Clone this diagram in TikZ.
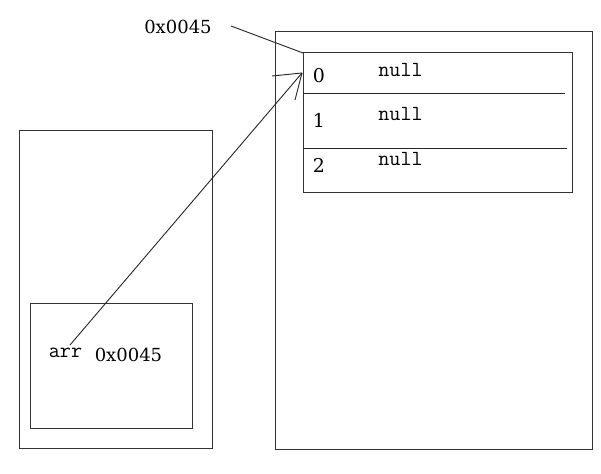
\documentclass[tikz,border=0pt]{standalone}
\usepackage{fontspec}
\newfontfamily\serifff{DejaVu Serif}
\begin{document}
\begin{tikzpicture}[x=1pt,y=-1pt,
  box/.style={draw=black!80, line width=1pt, inner sep=0pt, outer sep=0pt, fill=none},
  thin/.style={draw=black!85, line width=0.9pt},
  lbl/.style={inner sep=0pt, font=\serifff\fontsize{18}{18}\selectfont},
  idx/.style={inner sep=0pt, font=\serifff\fontsize{19}{19}\selectfont},
  nul/.style={inner sep=0pt, font=\ttfamily\fontsize{21.5}{21.5}\selectfont},
]
\useasboundingbox (0,0) rectangle (601,473);
\fill[white] (0,0) rectangle (601,473);
% stack
\node[box, minimum width=193pt, minimum height=317pt] (stack) at (115.5,289.5) {};
\node[box, minimum width=162pt, minimum height=125pt] (frame) at (111,365.5) {};
% heap
\node[box, minimum width=317pt, minimum height=417pt] (heap) at (433.5,240.5) {};
\node[box, minimum width=269pt, minimum height=139pt] (arrtab) at (437.5,122.5) {};
\coordinate (r1l) at (303,93); \coordinate (r1r) at (565,93);
\coordinate (r2l) at (303,148); \coordinate (r2r) at (567,148);
\draw[thin] (r1l) -- (r1r);
\draw[thin] (r2l) -- (r2r);
% index and values
\node[idx] (i0) at (319,76) {0};
\node[idx] (i1) at (319,120) {1};
\node[idx] (i2) at (319,165) {2};
\node[nul] (n0) at (400.5,70) {null};
\node[nul] (n1) at (400.5,114) {null};
\node[nul] (n2) at (400.5,159) {null};
% labels
\node[lbl] (addr) at (178,27) {0x0045};
\node[nul] (arr) at (65.5,352.5) {arr};
\node[lbl] (val) at (128.5,354.5) {0x0045};
% address pointer
\coordinate (addrfrom) at (231,26);
\draw[thin] (addrfrom) -- (arrtab.north west);
% reference arrow
\coordinate (arrfrom) at (70,345);
\coordinate (tip) at (302,73);
\coordinate (barbA) at (272,76);
\coordinate (barbB) at (295,100);
\draw[thin] (arrfrom) -- (tip);
\draw[thin] (tip) -- (barbA);
\draw[thin] (tip) -- (barbB);
\end{tikzpicture}
\end{document}
